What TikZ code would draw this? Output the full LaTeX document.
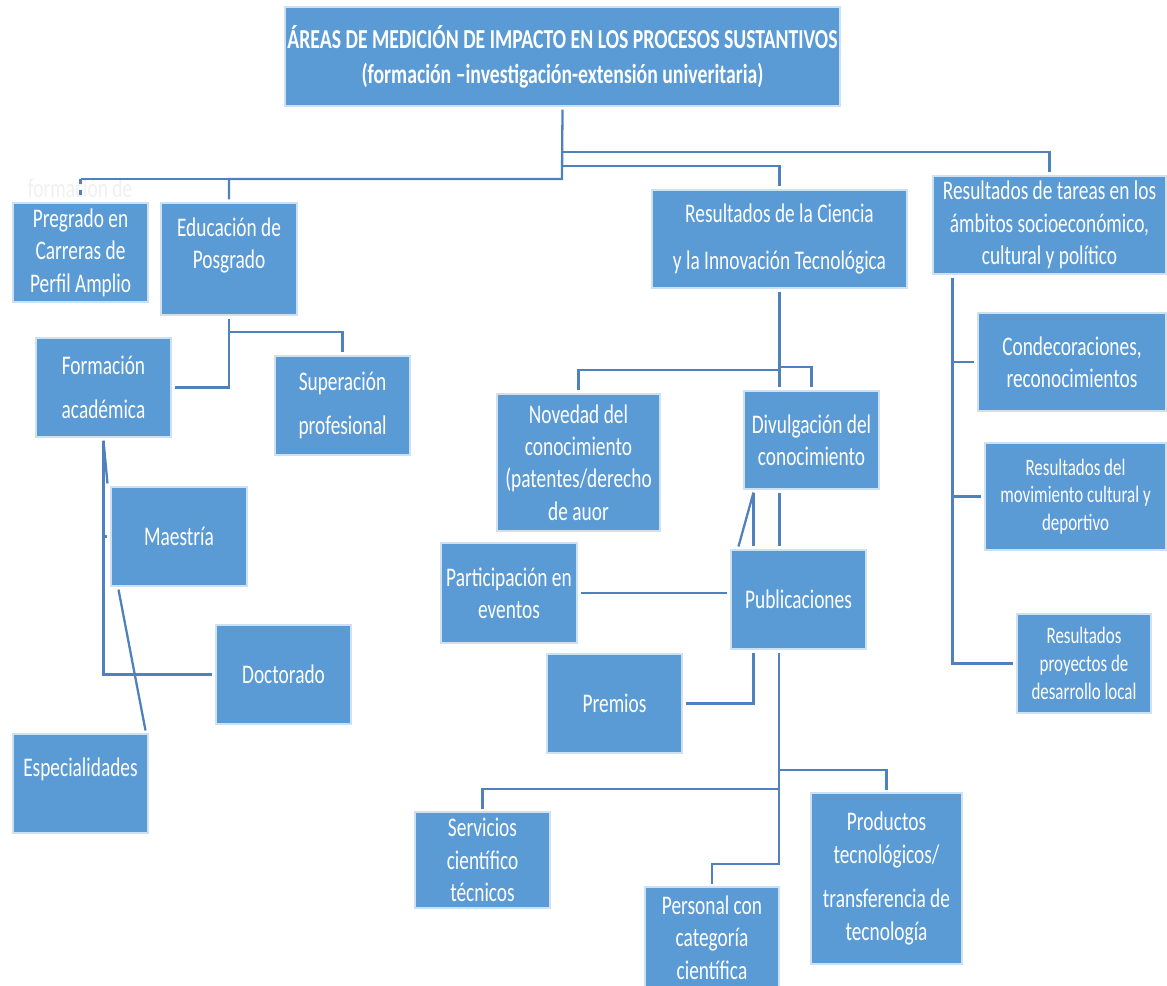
\documentclass[tikz,border=0pt]{standalone}
\usepackage{fontspec}
\setmainfont{Carlito}[FakeStretch=0.72]
\usetikzlibrary{calc}
\definecolor{boxblue}{RGB}{91,155,213}
\definecolor{lineblue}{RGB}{79,129,189}
\newcommand{\boxfont}{\fontsize{15.3}{18.4}\selectfont}
\newcommand{\smallboxfont}{\fontsize{13.4}{15.8}\selectfont}
\newcommand{\titlefont}{\fontsize{15.6}{19.8}\selectfont\bfseries}

\tikzset{
  box/.style={fill=boxblue, draw=white!70!boxblue, line width=0.6pt, text=white,
    align=center, inner sep=0pt, outer sep=2pt, font=\boxfont},
  boxsize/.style 2 args={minimum width=#1*0.02cm, minimum height=#2*0.02cm},
  link/.style={draw=lineblue, line width=1.3pt},
}

\begin{document}
\begin{tikzpicture}[x=0.02cm, y=-0.02cm]
		\useasboundingbox (0,0) rectangle (1167,985);
		% titulo
		\node[box, boxsize={555}{99}, font=\titlefont] (titulo) at (562.5,56.5) {ÁREAS DE MEDICIÓN DE IMPACTO EN LOS PROCESOS SUSTANTIVOS\\(formación –investigación-extensión univeritaria)};
		% formacion
		\node[text=black!6, font=\boxfont] (fantasma) at (80,188) {formación de};
		\node[box, boxsize={135}{99}] (pregrado) at (80.5,252.5) {Pregrado en\\Carreras de\\Perfil Amplio};
		\node[box, boxsize={136}{112}] (posgrado) at (229,259) {Educación de\\Posgrado\\ \mbox{}};
		\node[box, boxsize={135}{99}] (formacion) at (103.5,387.5) {Formación\\[7pt]académica};
		\node[box, boxsize={135}{99}] (superacion) at (342.5,405.5) {Superación\\[7pt]profesional};
		\node[box, boxsize={136}{99}] (maestria) at (179,536.5) {Maestría};
		\node[box, boxsize={135}{99}] (doctorado) at (283.5,674.5) {Doctorado};
		\node[box, boxsize={135}{99}] (especialidades) at (80.5,783.5) {Especialidades\\ \mbox{}};
		% investigacion
		\node[box, boxsize={255}{98}] (ciencia) at (779.5,239) {Resultados de la Ciencia\\[8pt]y la Innovación Tecnológica};
		\node[box, boxsize={163}{137}] (novedad) at (578.5,462.5) {Novedad del\\conocimiento\\(patentes/derecho\\de auor};
		\node[box, boxsize={135}{98}] (divulgacion) at (811.5,440) {Divulgación del\\conocimiento};
		\node[box, boxsize={136}{100}] (participacion) at (509,593) {Participación en\\eventos};
		\node[box, boxsize={135}{99}] (publicaciones) at (798.5,599.5) {Publicaciones};
		\node[box, boxsize={135}{99}] (premios) at (614.5,703.5) {Premios};
		\node[box, boxsize={135}{96}] (servicios) at (482.5,860) {Servicios\\científico\\técnicos};
		\node[box, boxsize={134}{101}] (personal) at (712,937.5) {Personal con\\categoría\\científica};
		\node[box, boxsize={151}{171}] (productos) at (886.5,878.5) {Productos\\tecnológicos/\\[7pt]transferencia de\\tecnología};
		% extension
		\node[box, boxsize={233}{98}] (tareas) at (1049.5,225) {Resultados de tareas en los\\ámbitos socioeconómico,\\cultural y político};
		\node[box, boxsize={188}{98}] (condecoraciones) at (1072,362) {Condecoraciones,\\reconocimientos};
		\node[box, boxsize={181}{107}, font=\smallboxfont] (movimiento) at (1075.5,496.5) {Resultados del\\movimiento cultural y\\deportivo};
		\node[box, boxsize={134}{99}, font=\smallboxfont] (proyectos) at (1084,663.5) {Resultados\\proyectos de\\desarrollo local};
		% conectores
		\coordinate (j1) at (562,179);
		\coordinate (j2) at (562,166);
		\coordinate (j3) at (562,152);
		\draw[link] (titulo.south) -- (j1) -| (posgrado.north);
		\draw[link] (j1) -- (pregrado.north |- j1);
		\draw[link, dashed] (pregrado.north |- j1) -- (pregrado.north);
		\draw[link] (j2) -| (ciencia.north);
		\draw[link] (j3) -| (tareas.north);
		\draw[link] (posgrado.south) |- (formacion.east);
		\draw[link] (posgrado.south |- 0,332) -| (superacion.north);
		\draw[link] (formacion.south) |- (doctorado.west);
		\draw[link] (formacion.south |- maestria.west) -- (maestria.west);
		\draw[link] (formacion.south) -- (maestria.north west);
		\draw[link] ($(maestria.south west)+(11,0)$) -- ($(especialidades.north east)+(-6,0)$);
		\draw[link] (ciencia.south) -- (ciencia.south |- divulgacion.north);
		\draw[link] (ciencia.south |- 0,370) -| (novedad.north);
		\draw[link] (ciencia.south |- 0,367) -| (divulgacion.north);
		\draw[link] ($(divulgacion.south west)+(13,0)$) -- ($(publicaciones.north west)+(26,0)$);
		\draw[link] ($(divulgacion.south west)+(13,0)$) -- ($(publicaciones.north west)+(11,0)$);
		\draw[link] (divulgacion.south -| ciencia.south) -- (publicaciones.north -| ciencia.south);
		\draw[link] (participacion.east) -- (participacion.east -| publicaciones.west);
		\draw[link] ($(publicaciones.south west)+(26,0)$) |- (premios.east);
		\coordinate (k1) at (779,770);
		\coordinate (k2) at (779,789);
		\coordinate (k3) at (779,864);
		\draw[link] (publicaciones.south -| k1) -- (k3) -| (personal.north);
		\draw[link] (k1) -| (productos.north);
		\draw[link] (k2) -| (servicios.north);
		\coordinate (t0) at ($(tareas.south west)+(23,0)$);
		\draw[link] (t0) |- (proyectos.west);
		\draw[link] (t0 |- condecoraciones.west) -- (condecoraciones.west);
		\draw[link] (t0 |- movimiento.west) -- (movimiento.west);
\end{tikzpicture}
\end{document}
